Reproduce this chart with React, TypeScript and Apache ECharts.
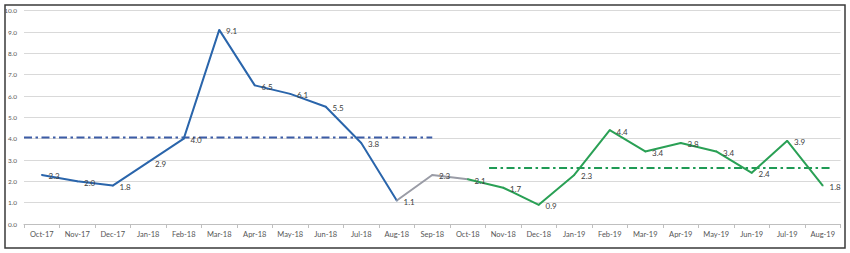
import React, { useEffect, useRef } from "react";
import * as echarts from "echarts";

const categories = [
  "Oct-17", "Nov-17", "Dec-17", "Jan-18", "Feb-18", "Mar-18", "Apr-18", "May-18",
  "Jun-18", "Jul-18", "Aug-18", "Sep-18", "Oct-18", "Nov-18", "Dec-18", "Jan-19",
  "Feb-19", "Mar-19", "Apr-19", "May-19", "Jun-19", "Jul-19", "Aug-19",
];
const blueValues = [2.3, 2.0, 1.8, 2.9, 4.0, 9.1, 6.5, 6.1, 5.5, 3.8, 1.1, null, null, null, null, null, null, null, null, null, null, null, null];
const grayValues = [null, null, null, null, null, null, null, null, null, null, 1.1, 2.3, 2.1, null, null, null, null, null, null, null, null, null, null];
const greenValues = [null, null, null, null, null, null, null, null, null, null, null, null, 2.1, 1.7, 0.9, 2.3, 4.4, 3.4, 3.8, 3.4, 2.4, 3.9, 1.8];
const grayLabelIndex = [11];
const blueAvg = 4.05;
const greenAvg = 2.62;
const blueAvgSpan = [-0.5, 11];
const greenAvgSpan = [12.6, 22.2];
const yTicks = [0, 10, 1];

const FONT = "Lato, 'Noto Sans', sans-serif";
const BLUE = "#2a65ab";
const GRAY = "#9a9ca6";
const GREEN = "#2aa055";

export default function App() {
  const ref = useRef<HTMLDivElement>(null);
  useEffect(() => {
    if (!ref.current) return;
    const chart = echarts.init(ref.current, undefined, { renderer: "svg" });
    const labelCfg = {
      show: true,
      position: "right" as const,
      distance: 6,
      offset: [0, 1.5],
      color: "#404040",
      fontSize: 8,
      fontFamily: FONT,
      formatter: (p: any) => (p.value == null ? "" : Number(p.value).toFixed(1)),
    };
    const sym = (color: string) => ({
      symbol: "circle",
      symbolSize: 1.5,
      showSymbol: true,
      showAllSymbol: true,
      itemStyle: { color, borderWidth: 0 },
    });
    chart.setOption({
      animation: false,
      backgroundColor: "#ffffff",
      textStyle: { fontFamily: FONT },
      grid: { left: 24, right: 9.5, top: 10.7, bottom: 29, containLabel: false },
      graphic: [
        {
          type: "rect",
          shape: { x: 5, y: 5, width: 840, height: 243 },
          style: { fill: "none", stroke: "#3a3a3a", lineWidth: 1.5 },
          silent: true,
        },
      ],
      xAxis: [
        {
          type: "category",
          data: categories,
          boundaryGap: true,
          axisLine: { show: true, lineStyle: { color: "#bfbfbf", width: 1 } },
          axisTick: { show: true, alignWithLabel: false, length: 4, lineStyle: { color: "#bfbfbf" } },
          axisLabel: { color: "#555555", fontSize: 7.5, fontFamily: FONT, margin: 6, interval: 0 },
          splitLine: { show: false },
        },
        {
          type: "value",
          min: -0.5,
          max: categories.length - 0.5,
          show: false,
        },
      ],
      yAxis: {
        type: "value",
        min: yTicks[0],
        max: yTicks[1],
        interval: yTicks[2],
        axisLine: { show: false },
        axisTick: { show: false },
        axisLabel: {
          color: "#595959",
          fontSize: 6.5,
          fontFamily: FONT,
          margin: 7,
          formatter: (v: number) => v.toFixed(1),
        },
        splitLine: { lineStyle: { color: "#d9d9d9", width: 1 } },
      },
      series: [
        {
          type: "line",
          xAxisIndex: 1,
          data: [[blueAvgSpan[0], blueAvg], [blueAvgSpan[1], blueAvg]],
          symbol: "none",
          lineStyle: { color: "#3c5ca6", width: 2, type: [8, 3.5, 2.5, 3.5] },
          z: 2,
        },
        {
          type: "line",
          xAxisIndex: 1,
          data: [[greenAvgSpan[0], greenAvg], [greenAvgSpan[1], greenAvg]],
          symbol: "none",
          lineStyle: { color: "#1f9a55", width: 2, type: [8, 3.5, 2.5, 3.5] },
          z: 2,
        },
        {
          type: "line",
          data: blueValues,
          ...sym(BLUE),
          connectNulls: false,
          lineStyle: { color: BLUE, width: 2 },
          label: labelCfg,
          z: 3,
        },
        {
          type: "line",
          data: grayValues.map((v, i) =>
            grayLabelIndex.includes(i) ? { value: v, label: labelCfg } : { value: v, label: { show: false } }
          ),
          ...sym(GRAY),
          lineStyle: { color: GRAY, width: 2 },
          z: 3,
        },
        {
          type: "line",
          data: greenValues,
          ...sym(GREEN),
          lineStyle: { color: GREEN, width: 2 },
          label: labelCfg,
          z: 3,
        },
      ],
    });
    return () => chart.dispose();
  }, []);
  return (
    <div
      ref={ref}
      style={{ position: "fixed", left: 0, top: 0, width: 850, height: 253, background: "#fff" }}
    />
  );
}
